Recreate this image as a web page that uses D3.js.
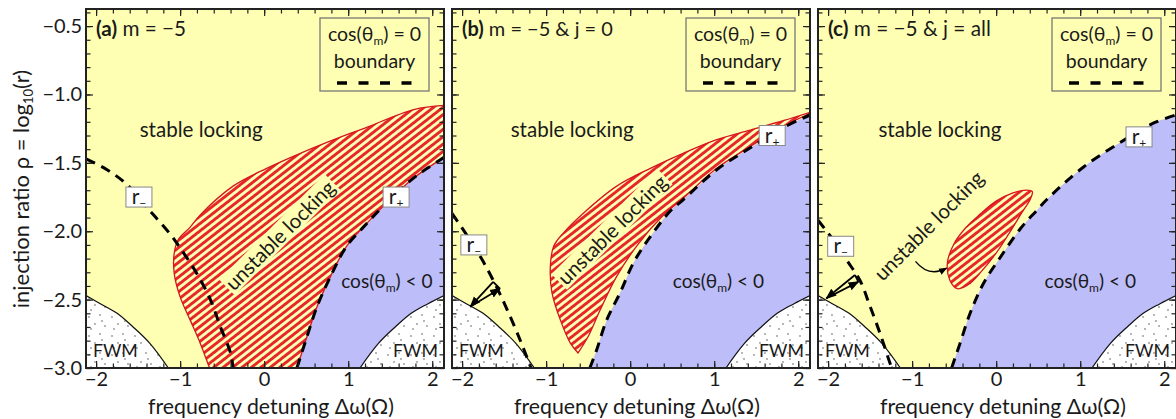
<!DOCTYPE html>
<html><head><meta charset="utf-8">
<script src="https://cdn.jsdelivr.net/npm/d3@7"></script>
<style>
body{margin:0;background:#fff;}
svg{display:block;font-family:Lato,"Open Sans",sans-serif;}
</style></head><body>
<svg id="chart" width="1176" height="419"></svg>
<script>
// ---------------- data ----------------
const xDomain = [-2.12, 2.14];
const yDomain = [-3.0, -0.375];
const xMajorTicks = [-2, -1, 0, 1, 2];
const xMinorTicks = [-2,-1.8,-1.6,-1.4,-1.2,-1,-0.8,-0.6,-0.4,-0.2,0,0.2,0.4,0.6,0.8,1,1.2,1.4,1.6,1.8,2];
const yMajorTicks = [-3.0, -2.5, -2.0, -1.5, -1.0, -0.5];
const yMinorTicks = [-3.0,-2.9,-2.8,-2.7,-2.6,-2.5,-2.4,-2.3,-2.2,-2.1,-2.0,-1.9,-1.8,-1.7,-1.6,-1.5,-1.4,-1.3,-1.2,-1.1,-1.0,-0.9,-0.8,-0.7,-0.6,-0.5,-0.4];
const panelTags = ["(a)", "(b)", "(c)"];
const panelTitles = [" m = −5", " m = −5 & j = 0", " m = −5 & j = all"];

// FWM boundaries (same in all panels)
const fwmLeft  = [[-2.12,-2.47],[-1.95,-2.53],[-1.75,-2.60],[-1.56,-2.70],[-1.36,-2.82],[-1.14,-3.0]];
const fwmRight = [[2.14,-2.47],[1.95,-2.53],[1.75,-2.60],[1.56,-2.70],[1.36,-2.82],[1.14,-3.0]];

// r+ boundary (cos(theta_m)=0), left edge of the blue region
const rPlusA = [[0.39,-3.0],[0.51,-2.77],[0.63,-2.55],[0.79,-2.33],[0.98,-2.11],[1.18,-1.97],[1.38,-1.84],[1.74,-1.63],[1.94,-1.54],[2.14,-1.46]];
const rPlusB = [[-0.48,-3.0],[-0.40,-2.87],[-0.28,-2.65],[-0.12,-2.45],[0.04,-2.23],[0.24,-2.04],[0.48,-1.85],[0.63,-1.77],[1.03,-1.55],[1.43,-1.39],[1.83,-1.24],[2.14,-1.15]];
const rPlusC = [[-0.53,-3.0],[-0.43,-2.82],[-0.31,-2.60],[-0.15,-2.38],[0.05,-2.19],[0.29,-1.98],[0.48,-1.85],[0.60,-1.77],[1.04,-1.53],[1.48,-1.35],[1.87,-1.21],[2.14,-1.15]];

// r- boundary
const rMinusA = [[-2.12,-1.47],[-1.87,-1.55],[-1.63,-1.66],[-1.36,-1.85],[-1.12,-2.02],[-0.98,-2.14],[-0.80,-2.31],[-0.64,-2.50],[-0.52,-2.70],[-0.40,-2.89],[-0.37,-3.0]];
const rMinusB = [[-2.12,-1.87],[-1.92,-2.05],[-1.75,-2.22],[-1.58,-2.42],[-1.43,-2.62],[-1.30,-2.81],[-1.18,-3.0]];
const rMinusC = [[-2.12,-1.92],[-1.93,-2.07],[-1.78,-2.21],[-1.62,-2.36],[-1.50,-2.55],[-1.38,-2.75],[-1.26,-2.97],[-1.24,-3.0]];

// unstable locking regions
const unstableAOuter = [[-0.65,-3.0],[-0.76,-2.82],[-0.88,-2.65],[-1.0,-2.48],[-1.07,-2.31],[-1.07,-2.16],[-1.02,-2.06],[-0.88,-1.97],[-0.76,-1.88],[-0.37,-1.67],[0.03,-1.54],[0.43,-1.43],[0.83,-1.33],[1.22,-1.24],[1.78,-1.11],[2.14,-1.08]];
const unstableBOuter = [[-0.62,-2.89],[-0.71,-2.82],[-0.83,-2.65],[-0.93,-2.45],[-0.95,-2.26],[-0.91,-2.11],[-0.79,-2.01],[-0.56,-1.87],[-0.16,-1.67],[0.24,-1.54],[0.63,-1.43],[1.03,-1.33],[1.43,-1.26],[1.83,-1.19],[2.14,-1.13]];
const unstableBInner = [[-0.62,-2.89],[-0.50,-2.77],[-0.36,-2.58],[-0.16,-2.33],[0.10,-2.09],[0.40,-1.88],[0.63,-1.76],[1.03,-1.54],[1.43,-1.38],[1.83,-1.23],[2.14,-1.14]];
const unstableC = [[-0.58,-2.23],[-0.55,-2.36],[-0.46,-2.42],[-0.33,-2.39],[-0.17,-2.29],[0.0,-2.16],[0.15,-2.02],[0.30,-1.87],[0.41,-1.76],[0.43,-1.71],[0.36,-1.70],[0.20,-1.72],[0.0,-1.78],[-0.20,-1.88],[-0.37,-1.98],[-0.50,-2.09]];

// annotation arrows
const arrowB = [[-1.90,-2.55],[-1.63,-2.37],[-1.55,-2.42]];
const arrowC = [[-2.02,-2.49],[-1.68,-2.32],[-1.64,-2.37]];
const curvedArrowC = [[-0.96,-2.22],[-0.80,-2.34],[-0.59,-2.27]];

// ---------------- style / layout ----------------
const YELLOW = "#FFFFB3", BLUE = "#BDBDF9", RED = "#E5262B", RED_LINE = "#D4161E", INK = "#1a1a1a";
const W = 358, H = 359, TOP = 9;
const panelLeft = [86, 452, 818];
const titleWidths = [90, 151, 163];

const panels = [
  {rPlus: rPlusA, rMinus: rMinusA, rMinusLab: [-1.49,-1.75], rPlusLab: [1.57,-1.75],
   stable: -0.75, cosX: 1.46, unst: {type:"a", at:[0.19,-2.03]}, arrow: null},
  {rPlus: rPlusB, rMinus: rMinusB, rMinusLab: [-1.86,-2.10], rPlusLab: [1.69,-1.30],
   stable: -0.69, cosX: 1.05, unst: {type:"b", at:[-0.21,-1.99]}, arrow: arrowB},
  {rPlus: rPlusC, rMinus: rMinusC, rMinusLab: [-1.85,-2.11], rPlusLab: [1.70,-1.31],
   stable: -0.67, cosX: 1.12, unst: {type:"c", at:[-0.80,-1.96]}, arrow: arrowC}
];

const svg = d3.select("#chart");
const defs = svg.append("defs");

function fit(sel, target) {
  const w = sel.node().getComputedTextLength();
  const fs = +sel.attr("font-size");
  if (w > 0) sel.attr("font-size", fs * target / w);
  return sel;
}

const hatch = defs.append("pattern").attr("id","hatch").attr("patternUnits","userSpaceOnUse")
  .attr("width",10).attr("height",5.8).attr("patternTransform","rotate(-38)");
hatch.append("rect").attr("width",10).attr("height",5.8).attr("fill",YELLOW);
hatch.append("rect").attr("width",10).attr("height",2.9).attr("fill",RED);

const dots = defs.append("pattern").attr("id","dots").attr("patternUnits","userSpaceOnUse")
  .attr("width",23).attr("height",19);
dots.append("rect").attr("width",23).attr("height",19).attr("fill","#fff");
[[3,4],[14,2],[9,11],[19,13],[5,16],[16,8]].forEach(([cx,cy]) =>
  dots.append("circle").attr("cx",cx).attr("cy",cy).attr("r",0.65).attr("fill","#333"));

defs.append("marker").attr("id","ahead").attr("viewBox","0 0 10 10").attr("refX",9).attr("refY",5)
  .attr("markerWidth",6).attr("markerHeight",6).attr("orient","auto-start-reverse")
  .append("path").attr("d","M0,1L10,5L0,9z").attr("fill","#000");

function rBox(g, x, y, pos, sign) {
  const gg = g.append("g").attr("transform", `translate(${x(pos[0])},${y(pos[1])})`);
  gg.append("rect").attr("x",-13).attr("y",-10).attr("width",26).attr("height",20)
    .attr("fill","#fff").attr("stroke","#888").attr("stroke-width",1);
  const t = gg.append("text").attr("text-anchor","middle").attr("y",7).attr("x",0)
    .attr("font-size",21).attr("fill",INK);
  t.append("tspan").text("r");
  t.append("tspan").attr("font-size",12).attr("dy",3).text(sign);
}

function cosText(sel, tail) {
  sel.append("tspan").text("cos(θ");
  sel.append("tspan").attr("font-size",12).attr("dy",4).text("m");
  sel.append("tspan").attr("dy",-4).text(")" + tail);
  return sel;
}

panels.forEach((p, i) => {
  const g = svg.append("g").attr("transform", `translate(${panelLeft[i]},${TOP})`);
  const x = d3.scaleLinear().domain(xDomain).range([0, W]);
  const y = d3.scaleLinear().domain(yDomain).range([H, 0]);
  const line = d3.line().x(d => x(d[0])).y(d => y(d[1])).curve(d3.curveCatmullRom.alpha(0.5));
  const pt = d => `L${x(d[0])},${y(d[1])}`;
  const clipId = "clip" + i;
  defs.append("clipPath").attr("id", clipId).append("rect").attr("width", W).attr("height", H);
  const plot = g.append("g").attr("clip-path", `url(#${clipId})`);

  plot.append("rect").attr("width", W).attr("height", H).attr("fill", YELLOW);

  // blue region
  const rp = p.rPlus, last = rp[rp.length - 1];
  plot.append("path")
    .attr("d", line(rp) + pt([xDomain[1] + 0.3, last[1]]) + pt([xDomain[1] + 0.3, yDomain[0] - 0.1]) + pt([rp[0][0], yDomain[0] - 0.1]) + "Z")
    .attr("fill", BLUE);

  // FWM regions
  plot.append("path")
    .attr("d", line(fwmLeft) + pt([fwmLeft[5][0], yDomain[0] - 0.1]) + pt([xDomain[0] - 0.3, yDomain[0] - 0.1]) + pt([xDomain[0] - 0.3, fwmLeft[0][1]]) + "Z")
    .attr("fill", "url(#dots)");
  plot.append("path")
    .attr("d", line(fwmRight) + pt([fwmRight[5][0], yDomain[0] - 0.1]) + pt([xDomain[1] + 0.3, yDomain[0] - 0.1]) + pt([xDomain[1] + 0.3, fwmRight[0][1]]) + "Z")
    .attr("fill", "url(#dots)");
  plot.append("path").attr("d", line(fwmLeft)).attr("fill","none").attr("stroke","#111").attr("stroke-width",1.2);
  plot.append("path").attr("d", line(fwmRight)).attr("fill","none").attr("stroke","#111").attr("stroke-width",1.2);

  // unstable locking region
  let ud;
  if (p.unst.type === "a") {
    ud = line(unstableAOuter) + pt([xDomain[1] + 0.3, unstableAOuter[unstableAOuter.length-1][1]]) + pt([xDomain[1] + 0.3, last[1]]) +
         line(rp.slice().reverse()).replace(/^M/, "L") + "Z";
  } else if (p.unst.type === "b") {
    ud = line(unstableBOuter) + pt([xDomain[1] + 0.3, -1.12]) + pt([xDomain[1] + 0.3, -1.14]) +
         line(unstableBInner.slice().reverse()).replace(/^M/, "L") + "Z";
  } else {
    ud = d3.line().x(d => x(d[0])).y(d => y(d[1])).curve(d3.curveCatmullRomClosed.alpha(0.5))(unstableC);
  }
  plot.append("path").attr("d", ud).attr("fill", "url(#hatch)").attr("stroke", RED_LINE).attr("stroke-width", 1.3);

  // unstable locking label
  const ug = plot.append("g").attr("transform", `translate(${x(p.unst.at[0])},${y(p.unst.at[1])}) rotate(-45)`);
  const ut = ug.append("text").attr("text-anchor","middle").attr("dy","0.35em").attr("font-size",18).attr("fill",INK).text("unstable locking");
  fit(ut, 145);
  if (p.unst.type !== "c") {
    const bb = ut.node().getBBox();
    ug.insert("rect", "text").attr("x", bb.x - 2).attr("y", bb.y + 1).attr("width", bb.width + 4).attr("height", bb.height - 2).attr("fill", YELLOW);
  }

  // dashed boundaries
  plot.append("path").attr("d", line(rp)).attr("fill","none").attr("stroke","#000").attr("stroke-width",3).attr("stroke-dasharray","10,7");
  plot.append("path").attr("d", line(p.rMinus)).attr("fill","none").attr("stroke","#000").attr("stroke-width",3).attr("stroke-dasharray","10,7");

  // annotation arrows
  if (p.arrow) {
    const [a0, a1, a2] = p.arrow;
    plot.append("line").attr("x1",x(a0[0])).attr("y1",y(a0[1])).attr("x2",x(a1[0])).attr("y2",y(a1[1]))
      .attr("stroke","#000").attr("stroke-width",1.8).attr("marker-start","url(#ahead)");
    plot.append("line").attr("x1",x(a0[0])).attr("y1",y(a0[1])).attr("x2",x(a2[0])).attr("y2",y(a2[1]))
      .attr("stroke","#000").attr("stroke-width",1.8).attr("marker-end","url(#ahead)");
    plot.append("line").attr("x1",x(a1[0])).attr("y1",y(a1[1])).attr("x2",x(a2[0])).attr("y2",y(a2[1]))
      .attr("stroke","#000").attr("stroke-width",1.8);
  }
  if (p.unst.type === "c") {
    const [c0, c1, c2] = curvedArrowC;
    plot.append("path").attr("d", `M${x(c0[0])},${y(c0[1])}Q${x(c1[0])},${y(c1[1])} ${x(c2[0])},${y(c2[1])}`)
      .attr("fill","none").attr("stroke","#000").attr("stroke-width",1.4).attr("marker-end","url(#ahead)");
  }

  // r labels
  rBox(plot, x, y, p.rMinusLab, "−");
  rBox(plot, x, y, p.rPlusLab, "+");

  // region texts
  fit(plot.append("text").attr("x", x(p.stable)).attr("y", y(-1.31)).attr("text-anchor","middle")
    .attr("font-size",18).attr("fill",INK).text("stable locking"), 123);
  fit(cosText(plot.append("text").attr("x", x(p.cosX)).attr("y", y(-2.415)).attr("text-anchor","middle")
    .attr("font-size",18).attr("fill",INK), " < 0"), 92);
  fit(plot.append("text").attr("x", x(-1.77)).attr("y", y(-2.92)).attr("text-anchor","middle")
    .attr("font-size",18).attr("fill",INK).text("FWM"), 45);
  fit(plot.append("text").attr("x", x(1.80)).attr("y", y(-2.92)).attr("text-anchor","middle")
    .attr("font-size",18).attr("fill",INK).text("FWM"), 45);

  // panel title
  const tt = plot.append("text").attr("x", 10).attr("y", 27).attr("font-size",18).attr("fill",INK);
  tt.append("tspan").attr("font-weight","bold").text(panelTags[i]);
  tt.append("tspan").text(panelTitles[i]);
  fit(tt, titleWidths[i]);

  // legend
  const lg = g.append("g").attr("transform", "translate(234,9)");
  lg.append("rect").attr("width",109).attr("height",73).attr("fill","none").attr("stroke","#777").attr("stroke-width",1.3);
  const lt = lg.append("text").attr("x",54.5).attr("y",23).attr("text-anchor","middle").attr("font-size",19.5).attr("fill",INK);
  lt.append("tspan").text("cos(θ");
  lt.append("tspan").attr("font-size",12).attr("dy",3.5).text("m");
  lt.append("tspan").attr("dy",-3.5).text(") = 0");
  lg.append("text").attr("x",54.5).attr("y",50).attr("text-anchor","middle").attr("font-size",19.5).attr("fill",INK).text("boundary");
  lg.append("line").attr("x1",17).attr("x2",92).attr("y1",65).attr("y2",65).attr("stroke","#000").attr("stroke-width",3.5).attr("stroke-dasharray","10,11.5");

  // axes (inward ticks)
  const styleAxis = a => { a.select(".domain").remove(); a.attr("font-family", null).attr("font-size", 20);
    a.selectAll("line").attr("stroke", "#222").attr("stroke-width", 1.2); a.selectAll("text").attr("fill", INK); };
  g.append("g").attr("transform", `translate(0,${H})`)
    .call(d3.axisBottom(x).tickValues(xMinorTicks).tickSize(-4.5).tickFormat("")).call(styleAxis);
  g.append("g").attr("transform", `translate(0,${H})`)
    .call(d3.axisBottom(x).tickValues(xMajorTicks).tickSize(-7).tickPadding(4).tickFormat(d3.format("d"))).call(styleAxis);
  g.append("g").call(d3.axisTop(x).tickValues(xMinorTicks).tickSize(-4.5).tickFormat("")).call(styleAxis);
  g.append("g").call(d3.axisTop(x).tickValues(xMajorTicks).tickSize(-7).tickFormat("")).call(styleAxis);
  g.append("g").call(d3.axisLeft(y).tickValues(yMinorTicks).tickSize(-4.5).tickFormat("")).call(styleAxis);
  g.append("g").call(d3.axisLeft(y).tickValues(yMajorTicks).tickSize(-7).tickPadding(4)
    .tickFormat(i === 0 ? d3.format(".1f") : "")).call(styleAxis);
  g.append("g").attr("transform", `translate(${W},0)`)
    .call(d3.axisRight(y).tickValues(yMinorTicks).tickSize(-4.5).tickFormat("")).call(styleAxis);
  g.append("g").attr("transform", `translate(${W},0)`)
    .call(d3.axisRight(y).tickValues(yMajorTicks).tickSize(-7).tickFormat("")).call(styleAxis);

  g.append("rect").attr("width", W).attr("height", H).attr("fill", "none").attr("stroke", "#222").attr("stroke-width", 2);

  // x title
  fit(g.append("text").attr("x", W / 2 + 6).attr("y", 405).attr("text-anchor","middle").attr("font-size",20).attr("fill",INK)
    .text("frequency detuning Δω(Ω)"), 246);
});

// y title
const yt = svg.append("text").attr("transform","translate(29,189) rotate(-90)").attr("text-anchor","middle")
  .attr("font-size",20).attr("fill",INK);
yt.append("tspan").text("injection ratio ρ = log");
yt.append("tspan").attr("font-size",13).attr("dy",4).text("10");
yt.append("tspan").attr("dy",-4).text("(r)");
fit(yt, 240);
</script>
</body></html>
